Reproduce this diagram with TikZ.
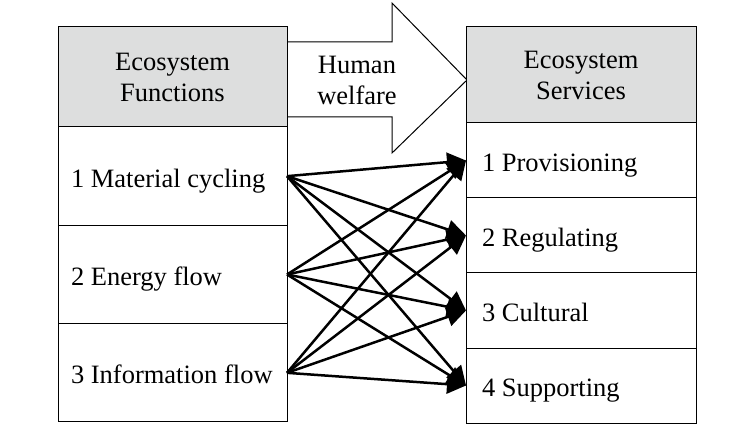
\documentclass[tikz,border=0pt]{standalone}
\usepackage{fontspec}
\setmainfont{Liberation Serif}
\usepackage{tikz}
\usetikzlibrary{positioning,arrows.meta}
\definecolor{head_gray}{RGB}{221,222,222}
\tikzset{
 box/.style={draw, line width=1pt, outer sep=0pt, font=\fontsize{26.5}{31}\selectfont},
 fn_head/.style={box, fill=head_gray, align=center, minimum width=229pt, minimum height=100pt},
 sv_head/.style={box, fill=head_gray, align=center, minimum width=230pt, minimum height=96pt},
 fn_row/.style={box, text width=203pt, inner xsep=13pt, align=flush left, text height=27pt, text depth=5pt, minimum height=98.33pt},
 sv_row/.style={box, text width=198pt, inner xsep=16pt, align=flush left, text height=27pt, text depth=5pt, minimum height=75pt},
 link/.style={-{Triangle[length=19pt,width=19pt]}, line width=2.5pt}
}

\begin{document}
\begin{tikzpicture}[x=1pt,y=1pt]
 \useasboundingbox (0,0) rectangle (754,439);

 % human welfare arrow
 \draw[line width=1pt, fill=white] (287,397) -- (392,397) -- (392,436) -- (467,359)
   -- (392,286) -- (392,322) -- (287,322) -- cycle;
 \node[font=\fontsize{26.5}{31}\selectfont, align=center] (hw) at (357,359) {Human\\welfare};

 % functions
 \node[fn_head] (fn) at (172.5,362) {Ecosystem\\Functions};
 \node[fn_row, below=0pt of fn] (fn1) {1 Material cycling};
 \node[fn_row, below=0pt of fn1] (fn2) {2 Energy flow};
 \node[fn_row, below=0pt of fn2] (fn3) {3 Information flow};

 % services
 \node[sv_head] (sv) at (581,364) {Ecosystem\\Services};
 \node[sv_row, below=0pt of sv] (sv1) {1 Provisioning};
 \node[sv_row, below=0pt of sv1] (sv2) {2 Regulating};
 \node[sv_row, below=0pt of sv2] (sv3) {3 Cultural};
 \node[sv_row, below=0pt of sv3] (sv4) {4 Supporting};

 \foreach \i in {1,2,3}
  \foreach \j in {1,...,4}
   \draw[link] (fn\i.east) -- (sv\j.west);
\end{tikzpicture}
\end{document}
